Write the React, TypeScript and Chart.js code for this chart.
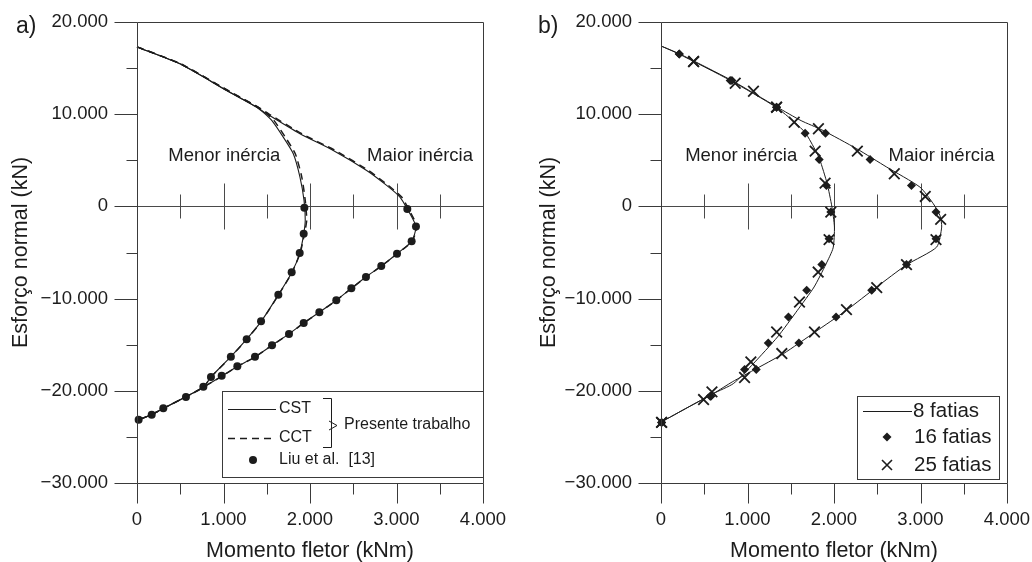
import React, { useEffect, useRef } from 'react';
import { Chart, registerables } from 'chart.js';
Chart.register(...registerables);

const FONT = "'Liberation Sans', Arial, Helvetica, sans-serif";
const INK = '#1c1c1c';
const AXIS = '#3a3a3a';

// axis ticks
const xTicks = [0, 1000, 2000, 3000, 4000];
const yTicks = [20000, 10000, 0, -10000, -20000, -30000];

// ---------- Panel a) ----------
const aMenorN = [17300, 15460, 12570, 10760, 10040, 9300, 7510, 5710, 3180, 650, -1500, -3000, -5100, -7200, -9600, -12500, -14400, -16300, -18500, -19600, -20650, -21900, -22600, -23200];
const aMenorCST = [0, 497, 1037, 1384, 1480, 1560, 1691, 1807, 1884, 1931, 1945, 1927, 1881, 1788, 1634, 1434, 1268, 1085, 855, 767, 565, 305, 165, 0];
const aMenorCCT = [0, 505, 1050, 1400, 1500, 1585, 1715, 1830, 1905, 1945, 1962, 1935, 1885, 1790, 1636, 1436, 1270, 1087, 857, 769, 566, 306, 166, 0];

const aMaiorN = [17300, 15460, 12570, 10760, 10040, 7880, 6070, 3900, 2280, 1010, -290, -2170, -3790, -5130, -6470, -7660, -8880, -10180, -11480, -12640, -13830, -15060, -16320, -17370, -18420, -19600, -20650, -21900, -22600, -23200];
const aMaiorCST = [0, 497, 1037, 1384, 1500, 1884, 2269, 2655, 2886, 3040, 3125, 3225, 3175, 3006, 2824, 2647, 2478, 2304, 2108, 1927, 1757, 1561, 1364, 1160, 979, 767, 565, 305, 165, 0];
const aMaiorCCT = [0, 505, 1050, 1400, 1522, 1905, 2290, 2675, 2905, 3060, 3140, 3235, 3180, 3010, 2826, 2649, 2480, 2306, 2110, 1929, 1759, 1563, 1366, 1162, 980, 769, 566, 306, 166, 0];

const liuMenorN = [-150, -2960, -5060, -7150, -9570, -12460, -14410, -16320, -18490, -19570, -20660, -21900, -22600, -23150];
const liuMenorM = [1935, 1927, 1881, 1788, 1634, 1434, 1268, 1085, 855, 767, 566, 304, 170, 19];
const liuMaiorN = [-290, -2170, -3790, -5130, -6470, -7660, -8880, -10180, -11480, -12640, -13830, -15060, -16320, -17350, -18380];
const liuMaiorM = [3125, 3225, 3175, 3006, 2824, 2647, 2478, 2304, 2108, 1927, 1757, 1561, 1364, 1160, 979];

// ---------- Panel b) ----------
const b8MenorN = [17400, 16540, 13650, 10760, 9130, 7940, 6000, 5090, 2500, 0, -2240, -4500, -6300, -8740, -11270, -14160, -17040, -19210, -20290, -21800, -23400];
const b8MenorM = [0, 205, 805, 1330, 1545, 1672, 1790, 1835, 1920, 1975, 2005, 1990, 1905, 1770, 1577, 1347, 1069, 838, 607, 310, 0];
const b8MaiorN = [17400, 16540, 13650, 10760, 9300, 8300, 6250, 4260, 2090, 290, -1000, -2240, -4410, -6340, -8740, -11270, -13620, -15970, -17770, -19000, -20290, -21800, -23400];
const b8MaiorM = [0, 215, 820, 1345, 1620, 1860, 2263, 2610, 2994, 3148, 3225, 3245, 3187, 2838, 2494, 2144, 1782, 1416, 1069, 830, 607, 310, 0];

const b16N = [16540, 13650, 10760, 7940, 5090, 2275, -617, -3500, -6300, -9100, -11990, -14810, -17700, -20590, -23430];
const b16MenorM = [211, 800, 1336, 1666, 1829, 1912, 1963, 1943, 1859, 1684, 1473, 1240, 966, 569, 7];
const b16MaiorM = [211, 820, 1336, 1902, 2417, 2895, 3179, 3179, 2838, 2436, 2024, 1594, 1101, 577, 7];

const b25MenorN = [15710, 13360, 10760, 9130, 6000, 2530, -617, -3600, -7120, -10370, -13620, -16870, -20950, -23430];
const b25MenorM = [377, 858, 1336, 1540, 1782, 1897, 1963, 1943, 1817, 1601, 1337, 1039, 492, 7];
const b25MaiorN = [15710, 12490, 10760, 8420, 6000, 3540, 1080, -1410, -3600, -6320, -8810, -11200, -13620, -15960, -18560, -20120, -23430];
const b25MaiorM = [377, 1069, 1336, 1820, 2270, 2697, 3055, 3233, 3179, 2838, 2494, 2144, 1774, 1397, 966, 589, 7];

const zip = (m: number[], n: number[]) => m.map((v, i) => ({ x: v, y: n[i] }));

const fmt = (v: number) => {
  if (v === 0) return '0';
  const s = (Math.abs(v) / 1000).toFixed(0) + '.000';
  return (v < 0 ? '\u2212' : '') + s;
};

const px = (v: number) => Math.round(v) + 0.5;

type PanelCfg = {
  label: string;
  labelX: number;
  padLeft: number;
  padRight: number;
  yTitlePad: number;
  ann: { text: string; x: number; y: number }[];
  legend: (ctx: CanvasRenderingContext2D) => void;
};

function makeDecor(cfg: PanelCfg) {
  return {
    id: 'decor',
    beforeDatasetsDraw(chart: any) {
      const { ctx, chartArea: a, scales } = chart;
      const x = scales.x, y = scales.y;
      const y0 = px(y.getPixelForValue(0));
      ctx.save();
      ctx.strokeStyle = '#4a4a4a';
      ctx.lineWidth = 1;
      ctx.beginPath();
      ctx.moveTo(a.left, y0);
      ctx.lineTo(a.right, y0);
      for (let v = 500; v <= 3500; v += 500) {
        const xx = px(x.getPixelForValue(v));
        const big = v % 1000 === 0;
        ctx.moveTo(xx, y0 - (big ? 23 : 12));
        ctx.lineTo(xx, y0 + (big ? 23 : 12));
      }
      ctx.stroke();
      ctx.restore();
    },
    afterDraw(chart: any) {
      const { ctx, chartArea: a, scales } = chart;
      const x = scales.x, y = scales.y;
      const L = px(a.left), R = px(a.right), T = px(a.top), B = px(a.bottom);
      ctx.save();
      ctx.strokeStyle = AXIS;
      ctx.lineWidth = 1;
      ctx.beginPath();
      ctx.rect(L, T, R - L, B - T);
      for (let v = -30000; v <= 20000; v += 5000) {
        const yy = px(y.getPixelForValue(v));
        const len = v % 10000 === 0 ? 23 : 11;
        ctx.moveTo(L - len, yy);
        ctx.lineTo(L, yy);
      }
      for (let v = 0; v <= 4000; v += 500) {
        const xx = px(x.getPixelForValue(v));
        const len = v % 1000 === 0 ? 20 : 11;
        ctx.moveTo(xx, B);
        ctx.lineTo(xx, B + len);
      }
      ctx.stroke();

      ctx.fillStyle = INK;
      ctx.textBaseline = 'middle';
      ctx.textAlign = 'center';
      ctx.font = `18.5px ${FONT}`;
      for (const an of cfg.ann) {
        ctx.fillText(an.text, x.getPixelForValue(an.x), y.getPixelForValue(an.y));
      }
      ctx.textAlign = 'left';
      ctx.font = `23px ${FONT}`;
      ctx.fillText(cfg.label, cfg.labelX, 27);
      cfg.legend(ctx);
      ctx.restore();
    },
  };
}

function legendA(ctx: CanvasRenderingContext2D) {
  ctx.save();
  ctx.fillStyle = '#fff';
  ctx.fillRect(222, 391, 261, 86);
  ctx.strokeStyle = AXIS;
  ctx.lineWidth = 1;
  ctx.strokeRect(222.5, 391.5, 261, 86);
  ctx.strokeStyle = INK;
  ctx.beginPath();
  ctx.moveTo(228, 409.5);
  ctx.lineTo(276, 409.5);
  ctx.stroke();
  ctx.setLineDash([7, 5]);
  ctx.lineWidth = 1.4;
  ctx.beginPath();
  ctx.moveTo(228, 438.5);
  ctx.lineTo(276, 438.5);
  ctx.stroke();
  ctx.setLineDash([]);
  ctx.fillStyle = INK;
  ctx.beginPath();
  ctx.arc(253, 460, 4, 0, Math.PI * 2);
  ctx.fill();
  // bracket
  ctx.lineWidth = 1;
  ctx.beginPath();
  ctx.moveTo(323, 398.5);
  ctx.lineTo(331.5, 398.5);
  ctx.lineTo(331.5, 447.5);
  ctx.lineTo(323, 447.5);
  ctx.moveTo(329, 421);
  ctx.lineTo(337, 425.5);
  ctx.lineTo(329, 430);
  ctx.stroke();
  ctx.font = `16px ${FONT}`;
  ctx.textAlign = 'left';
  ctx.textBaseline = 'middle';
  ctx.fillText('CST', 279, 409);
  ctx.fillText('CCT', 279, 438);
  ctx.fillText('Liu et al.  [13]', 279, 460);
  ctx.fillText('Presente trabalho', 344, 425);
  ctx.restore();
}

function legendB(ctx: CanvasRenderingContext2D) {
  ctx.save();
  ctx.fillStyle = '#fff';
  ctx.fillRect(341, 396, 142, 83);
  ctx.strokeStyle = AXIS;
  ctx.lineWidth = 1;
  ctx.strokeRect(341.5, 396.5, 142, 83);
  ctx.strokeStyle = INK;
  ctx.beginPath();
  ctx.moveTo(347, 411.5);
  ctx.lineTo(396, 411.5);
  ctx.stroke();
  ctx.fillStyle = INK;
  ctx.beginPath();
  ctx.moveTo(371, 432.5);
  ctx.lineTo(375.5, 437);
  ctx.lineTo(371, 441.5);
  ctx.lineTo(366.5, 437);
  ctx.closePath();
  ctx.fill();
  ctx.lineWidth = 1.6;
  ctx.beginPath();
  ctx.moveTo(366, 460);
  ctx.lineTo(376, 470);
  ctx.moveTo(376, 460);
  ctx.lineTo(366, 470);
  ctx.stroke();
  ctx.font = `20.5px ${FONT}`;
  ctx.textAlign = 'left';
  ctx.textBaseline = 'middle';
  ctx.fillText('8 fatias', 397, 411);
  ctx.fillText('16 fatias', 398, 437);
  ctx.fillText('25 fatias', 398, 465);
  ctx.restore();
}

function baseOptions(cfg: PanelCfg): any {
  const hiddenGrid = (len: number) => ({ display: true, drawOnChartArea: false, drawTicks: true, tickLength: len, tickColor: 'rgba(0,0,0,0)', color: 'rgba(0,0,0,0)' });
  return {
    responsive: false,
    animation: false,
    events: [],
    layout: { padding: { left: 0, right: cfg.padRight, top: 22, bottom: 0 } },
    plugins: { legend: { display: false }, tooltip: { enabled: false }, title: { display: false } },
    scales: {
      x: {
        type: 'linear',
        min: 0,
        max: 4000,
        afterBuildTicks: (s: any) => { s.ticks = xTicks.map((v) => ({ value: v })); },
        afterFit: (s: any) => { s.height = 79; },
        grid: hiddenGrid(26),
        border: { display: false },
        ticks: { autoSkip: false, maxRotation: 0, padding: 0, color: INK, font: { family: FONT, size: 18.5 }, callback: (v: any) => fmt(Number(v)) },
        title: { display: true, text: 'Momento fletor (kNm)', color: INK, font: { family: FONT, size: 21.5, lineHeight: 1 }, padding: { top: 0, bottom: 0 } },
      },
      y: {
        type: 'linear',
        min: -30000,
        max: 20000,
        afterBuildTicks: (s: any) => { s.ticks = yTicks.map((v) => ({ value: v })); },
        afterFit: (s: any) => { s.width = cfg.padLeft; },
        grid: hiddenGrid(24),
        border: { display: false },
        ticks: { autoSkip: false, padding: 5, color: INK, font: { family: FONT, size: 18.5 }, callback: (v: any) => fmt(Number(v)) },
        title: { display: true, text: 'Esforço normal (kN)', color: INK, font: { family: FONT, size: 21.5, lineHeight: 1.2 }, padding: { top: cfg.yTitlePad, bottom: 0 } },
      },
    },
  };
}

const cfgA: PanelCfg = {
  label: 'a)',
  labelX: 16,
  padLeft: 137,
  padRight: 33,
  yTitlePad: 8.6,
  ann: [
    { text: 'Menor inércia', x: 1010, y: 5500 },
    { text: 'Maior inércia', x: 3272, y: 5500 },
  ],
  legend: legendA,
};

const cfgB: PanelCfg = {
  label: 'b)',
  labelX: 22,
  padLeft: 145,
  padRight: 25,
  yTitlePad: 19.8,
  ann: [
    { text: 'Menor inércia', x: 927, y: 5500 },
    { text: 'Maior inércia', x: 3243, y: 5500 },
  ],
  legend: legendB,
};

function lineDs(label: string, data: any[], dash: number[] = [], width = 1.1) {
  return {
    type: 'scatter',
    label,
    data,
    showLine: true,
    borderColor: INK,
    borderWidth: width,
    borderDash: dash,
    pointRadius: 0,
    tension: 0.2,
    clip: false,
  };
}

function markDs(label: string, data: any[], style: string, r: number, fill: boolean, bw: number) {
  return {
    type: 'scatter',
    label,
    data,
    showLine: false,
    pointStyle: style,
    pointRadius: r,
    backgroundColor: fill ? INK : 'rgba(0,0,0,0)',
    borderColor: INK,
    borderWidth: bw,
    clip: false,
  };
}

function PanelA() {
  const ref = useRef<HTMLCanvasElement>(null);
  useEffect(() => {
    const chart = new Chart(ref.current as HTMLCanvasElement, {
      type: 'scatter',
      data: {
        datasets: [
          lineDs('CST menor', zip(aMenorCST, aMenorN)),
          lineDs('CCT menor', zip(aMenorCCT, aMenorN), [7, 5], 1.5),
          lineDs('CST maior', zip(aMaiorCST, aMaiorN)),
          lineDs('CCT maior', zip(aMaiorCCT, aMaiorN), [7, 5], 1.5),
          markDs('Liu menor', zip(liuMenorM, liuMenorN), 'circle', 4, true, 0),
          markDs('Liu maior', zip(liuMaiorM, liuMaiorN), 'circle', 4, true, 0),
        ] as any,
      },
      options: baseOptions(cfgA),
      plugins: [makeDecor(cfgA)],
    });
    return () => chart.destroy();
  }, []);
  return <canvas ref={ref} width={516} height={562} style={{ position: 'absolute', left: 0, top: 0 }} />;
}

function PanelB() {
  const ref = useRef<HTMLCanvasElement>(null);
  useEffect(() => {
    const chart = new Chart(ref.current as HTMLCanvasElement, {
      type: 'scatter',
      data: {
        datasets: [
          lineDs('8 fatias menor', zip(b8MenorM, b8MenorN), [], 1),
          lineDs('8 fatias maior', zip(b8MaiorM, b8MaiorN), [], 1),
          markDs('16 fatias menor', zip(b16MenorM, b16N), 'rectRot', 4.5, true, 0),
          markDs('16 fatias maior', zip(b16MaiorM, b16N), 'rectRot', 4.5, true, 0),
          markDs('25 fatias menor', zip(b25MenorM, b25MenorN), 'crossRot', 7.5, false, 1.8),
          markDs('25 fatias maior', zip(b25MaiorM, b25MaiorN), 'crossRot', 7.5, false, 1.8),
        ] as any,
      },
      options: baseOptions(cfgB),
      plugins: [makeDecor(cfgB)],
    });
    return () => chart.destroy();
  }, []);
  return <canvas ref={ref} width={516} height={562} style={{ position: 'absolute', left: 516, top: 0 }} />;
}

export default function App() {
  return (
    <div style={{ position: 'fixed', left: 0, top: 0, width: 1032, height: 562, background: '#fff', overflow: 'hidden' }}>
      <PanelA />
      <PanelB />
    </div>
  );
}
